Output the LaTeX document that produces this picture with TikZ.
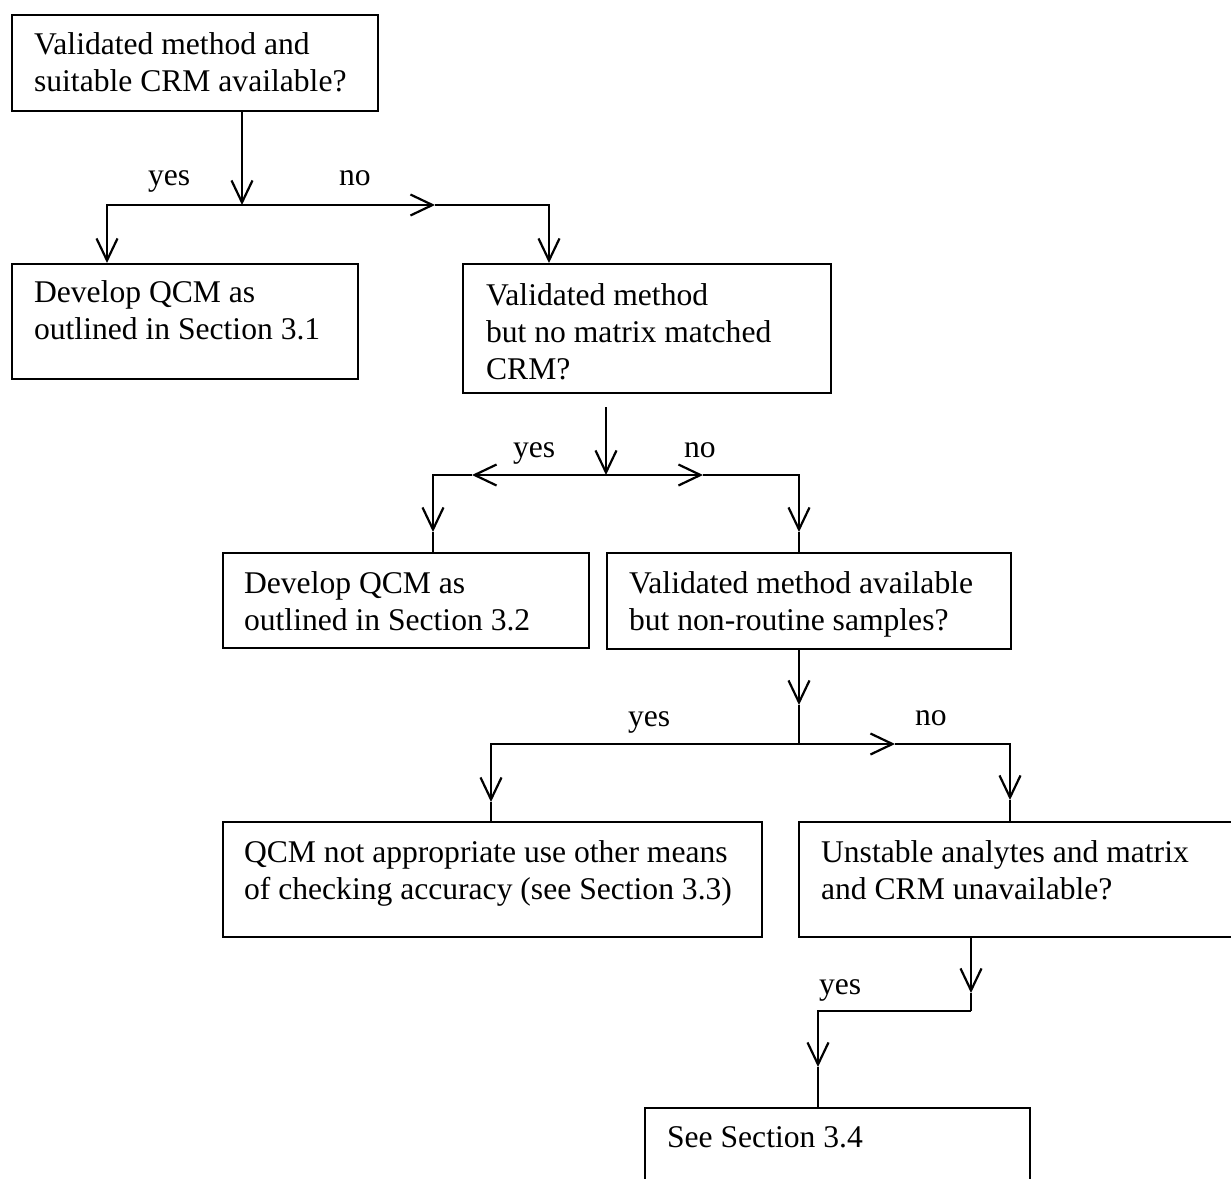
\documentclass[tikz,border=0pt]{standalone}
\usepackage{fontspec}
\setmainfont{Liberation Serif}
\usetikzlibrary{arrows.meta,calc}
\begin{document}
\begin{tikzpicture}[x=1pt,y=-1pt, line width=2.2pt,
  box/.style={draw, rectangle, inner sep=0pt, anchor=north west},
  txt/.style={font=\fontsize{31.6}{37}\selectfont, inner sep=0pt, anchor=base west, align=left},
  lbl/.style={font=\fontsize{31.6}{37}\selectfont, inner sep=0pt, anchor=base west},
  arr/.style={-{Straight Barb[length=22pt,width=21pt]}}]
\useasboundingbox (0,0) rectangle (1231,1178);
\fill[white] (0,0) rectangle (1231,1178);
\clip (0,0) rectangle (1231,1178);

% boxes
\node[box, minimum width=366pt, minimum height=96pt]  (b1) at (11,14) {};
\node[box, minimum width=346pt, minimum height=115pt] (b2) at (11,263) {};
\node[box, minimum width=368pt, minimum height=129pt] (b3) at (462,263) {};
\node[box, minimum width=366pt, minimum height=95pt]  (b4) at (222,552) {};
\node[box, minimum width=404pt, minimum height=96pt]  (b5) at (606,552) {};
\node[box, minimum width=539pt, minimum height=115pt] (b6) at (222,821) {};
\node[box, minimum width=460pt, minimum height=115pt] (b7) at (798,821) {};
\node[box, minimum width=385pt, minimum height=100pt] (b8) at (644,1107) {};

% texts (anchor = baseline of the last line)
\node[txt] (t1) at ($(b1.north west)+(22,77)$) {Validated method and\\suitable CRM available?};
\node[txt] (t2) at ($(b2.north west)+(22,76)$) {Develop QCM as\\outlined in Section 3.1};
\node[txt] (t3) at ($(b3.north west)+(23,116)$) {Validated method\\but no matrix matched\\CRM?};
\node[txt] (t4) at ($(b4.north west)+(21,78)$) {Develop QCM as\\outlined in Section 3.2};
\node[txt] (t5) at ($(b5.north west)+(22,78)$) {Validated method available\\but non-routine samples?};
\node[txt] (t6) at ($(b6.north west)+(21,78)$) {QCM not appropriate use other means\\of checking accuracy (see Section 3.3)};
\node[txt] (t7) at ($(b7.north west)+(22,78)$) {Unstable analytes and matrix\\and CRM unavailable?};
\node[txt] (t8) at ($(b8.north west)+(22,40)$) {See Section 3.4};

% level 1
\coordinate (j1) at (242,205);
\coordinate (y1) at (107,205);
\coordinate (n1) at (435,205);
\coordinate (n1c) at (549,205);
\draw[arr] (b1.south -| j1) -- (j1);
\draw[arr] (j1) -- (y1) -- (y1 |- b2.north);
\draw[arr] (j1) -- (n1);
\draw[arr] (n1) -- (n1c) -- (n1c |- b3.north);
\node[lbl] (l1y) at (147,185) {yes};
\node[lbl] (l1n) at (338,185) {no};

% level 2
\coordinate (s2) at (606,407);
\coordinate (j2) at (606,475);
\coordinate (y2a) at (472,475);
\coordinate (y2c) at (433,475);
\coordinate (y2t) at (433,532);
\coordinate (n2a) at (703,475);
\coordinate (n2c) at (799,475);
\coordinate (n2t) at (799,532);
\draw[arr] (s2) -- (j2);
\draw[arr] (j2) -- (y2a);
\draw[arr] (y2a) -- (y2c) -- (y2t);
\draw (y2t) -- (y2t |- b4.north);
\draw[arr] (j2) -- (n2a);
\draw[arr] (n2a) -- (n2c) -- (n2t);
\draw (n2t) -- (n2t |- b5.north);
\node[lbl] (l2y) at (512,457) {yes};
\node[lbl] (l2n) at (683,457) {no};

% level 3
\coordinate (j3) at (799,744);
\coordinate (s3t) at (799,705);
\coordinate (y3c) at (491,744);
\coordinate (y3t) at (491,802);
\coordinate (n3a) at (895,744);
\coordinate (n3c) at (1010,744);
\coordinate (n3t) at (1010,800);
\draw[arr] (b5.south -| j3) -- (s3t);
\draw (s3t) -- (j3);
\draw[arr] (j3) -- (y3c) -- (y3t);
\draw (y3t) -- (y3t |- b6.north);
\draw[arr] (j3) -- (n3a);
\draw[arr] (n3a) -- (n3c) -- (n3t);
\draw (n3t) -- (n3t |- b7.north);
\node[lbl] (l3y) at (627,726) {yes};
\node[lbl] (l3n) at (914,725) {no};

% level 4
\coordinate (j4) at (971,1011);
\coordinate (s4t) at (971,993);
\coordinate (y4c) at (818,1011);
\coordinate (y4t) at (818,1067);
\draw[arr] (b7.south -| j4) -- (s4t);
\draw (s4t) -- (j4);
\draw[arr] (j4) -- (y4c) -- (y4t);
\draw (y4t) -- (y4t |- b8.north);
\node[lbl] (l4y) at (818,994) {yes};
\end{tikzpicture}
\end{document}
